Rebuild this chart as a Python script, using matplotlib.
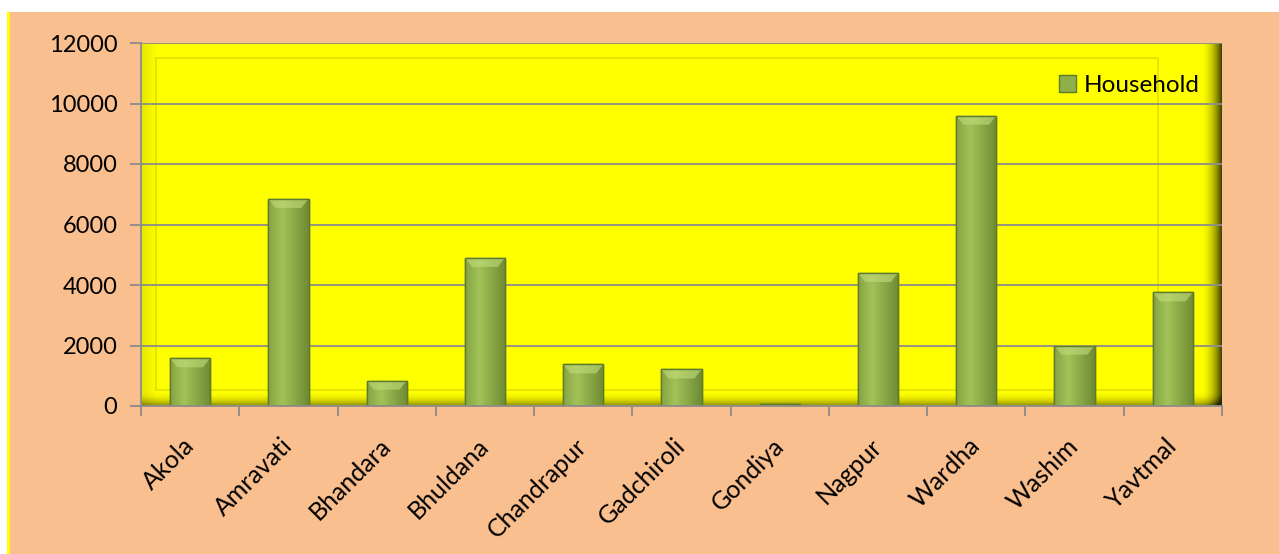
import numpy as np
import matplotlib
matplotlib.use('Agg')
import matplotlib.pyplot as plt
from matplotlib.patches import Rectangle, Patch, Polygon

plt.rcParams['font.family'] = ['Lato', 'DejaVu Sans']

districts = ['Akola', 'Amravati', 'Bhandara', 'Bhuldana', 'Chandrapur',
             'Gadchiroli', 'Gondiya', 'Nagpur', 'Wardha', 'Washim', 'Yavtmal']
household = [1580, 6850, 840, 4900, 1380, 1210, 60, 4400, 9600, 2000, 3760]
yticks = [0, 2000, 4000, 6000, 8000, 10000, 12000]

W, H = 1279, 554
fig = plt.figure(figsize=(W / 100, H / 100), dpi=100)
fig.patch.set_facecolor('white')
# peach chart area + thin yellow line on the left
fig.patches.append(Rectangle((10 / W, 0), 1 - 10 / W, 1 - 12 / H, transform=fig.transFigure,
                             facecolor='#F9BF8F', edgecolor='none', zorder=-10))
fig.patches.append(Rectangle((7 / W, 0), 3 / W, 1 - 12 / H, transform=fig.transFigure,
                             facecolor='#FFFF00', edgecolor='none', zorder=-9))

ax = fig.add_axes([141 / W, 1 - 406 / H, 1081 / W, 363 / H])
n = len(districts)

# yellow back wall with bevel shading
pw, ph = 1081, 363
xx, yy = np.meshgrid(np.arange(pw), np.arange(ph))
right = np.clip((xx - (pw - 22)) / 22, 0, 1)
bottom = np.clip((yy - (ph - 15)) / 15, 0, 1)
left = np.clip(1 - xx / 16, 0, 1)
shade = 1 - 0.8 * right ** 2 - 0.5 * bottom ** 2 - 0.1 * left
shade = np.clip(shade, 0.15, 1)
img = np.zeros((ph, pw, 3))
img[..., 0] = shade
img[..., 1] = shade
img[..., 2] = 0.0
ax.imshow(img, extent=(-0.5, n - 0.5, 0, 12000), aspect='auto', zorder=0,
          interpolation='bilinear')
# inner bevel outline
ax.add_patch(Rectangle((-0.35, 520), n - 0.35 - 0.45, 11000, fill=False,
                       edgecolor='#E0E000', lw=1.2, zorder=0.5))

ax.set_yticks(yticks)
ax.grid(axis='y', color='#8C8C8C', lw=1.3, zorder=0.6)
ax.set_axisbelow(True)

# bars with a horizontal green gradient
x = np.arange(n)
bw = 0.41
grad = np.linspace(0, 1, 64)
c_left = np.array([0x86, 0xA4, 0x45]) / 255
c_mid = np.array([0xA2, 0xC3, 0x58]) / 255
c_right = np.array([0x6E, 0x8B, 0x33]) / 255
gimg = np.zeros((1, 64, 3))
for i, g in enumerate(grad):
    if g < 0.35:
        t = g / 0.35
        gimg[0, i] = c_left * (1 - t) + c_mid * t
    else:
        t = (g - 0.35) / 0.65
        gimg[0, i] = c_mid * (1 - t) + c_right * t
bars = ax.bar(x, household, width=bw, color='#8FAF4A', edgecolor='#5E7A2A', lw=1.0, zorder=2)
for b in bars:
    x0, y0, w, h = b.get_x(), b.get_y(), b.get_width(), b.get_height()
    im = ax.imshow(gimg, extent=(x0, x0 + w, y0, y0 + h), aspect='auto', zorder=2.1)
    im.set_clip_path(b)
    # bevelled top cap
    cap = min(h * 0.5, 300)
    inset = w * 0.18
    ax.add_patch(Polygon([(x0, y0 + h), (x0 + w, y0 + h), (x0 + w - inset, y0 + h - cap),
                          (x0 + inset, y0 + h - cap)], closed=True,
                         facecolor='#C2DC7A', edgecolor='none', alpha=0.6, zorder=2.2))
    ax.add_patch(Rectangle((x0, y0), w, h, fill=False, edgecolor='#5E7A2A', lw=1.0, zorder=2.3))

ax.set_xlim(-0.5, n - 0.5)
ax.set_ylim(0, 12000)

# category labels drawn as annotations so they can sit a bit left of the tick centre
ax.set_xticks(x)
ax.set_xticklabels([])
for xi, name in zip(x, districts):
    ax.annotate(name, (xi, 0), xycoords=('data', 'axes fraction'), xytext=(-8, -28),
                textcoords='offset pixels', rotation=45, ha='right', va='top',
                rotation_mode='anchor', fontsize=18, annotation_clip=False)
ax.set_xticks(np.arange(-0.5, n), minor=True)
ax.tick_params(axis='x', which='major', length=0)
ax.tick_params(axis='x', which='minor', length=7, color='#8C8C8C', width=1.3)
ax.tick_params(axis='y', length=8, color='#8C8C8C', width=1.3, labelsize=17, pad=9)
for s in ['top', 'right']:
    ax.spines[s].set_visible(False)
for s in ['left', 'bottom']:
    ax.spines[s].set_color('#8C8C8C')
    ax.spines[s].set_linewidth(1.3)

handle = Patch(facecolor='#8FAF4A', edgecolor='#5E7A2A')
ax.legend([handle], ['Household'], loc='upper right', bbox_to_anchor=(0.988, 0.94),
          frameon=False, fontsize=17.5, handlelength=0.7, handleheight=0.7,
          handletextpad=0.3, borderaxespad=0)

fig.savefig('out.png', dpi=100, facecolor=fig.get_facecolor())
